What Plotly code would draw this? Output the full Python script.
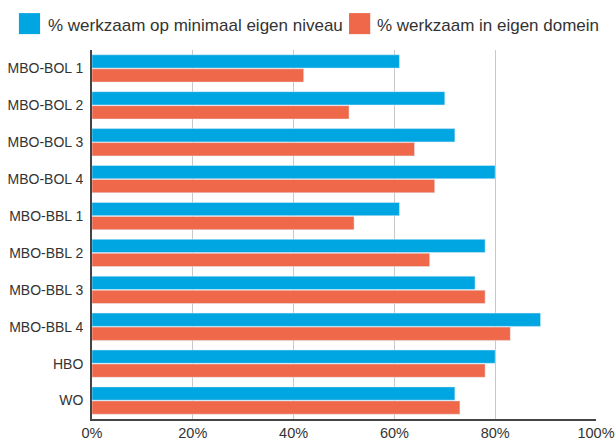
import plotly.graph_objects as go

categories = ["MBO-BOL 1", "MBO-BOL 2", "MBO-BOL 3", "MBO-BOL 4", "MBO-BBL 1",
              "MBO-BBL 2", "MBO-BBL 3", "MBO-BBL 4", "HBO", "WO"]
niveau = [61, 70, 72, 80, 61, 78, 76, 89, 80, 72]
domein = [42, 51, 64, 68, 52, 67, 78, 83, 78, 73]
series_names = ["% werkzaam op minimaal eigen niveau", "% werkzaam in eigen domein"]
tick_vals = [0, 20, 40, 60, 80, 100]
tick_text = ["0%", "20%", "40%", "60%", "80%", "100%"]

blue = "#00A6E2"
orange = "#EE6849"
font = "Liberation Sans, Arial, sans-serif"

fig = go.Figure()
fig.add_trace(go.Bar(y=categories, x=niveau, orientation="h", name=series_names[0],
                     marker_color=blue, showlegend=False))
fig.add_trace(go.Bar(y=categories, x=domein, orientation="h", name=series_names[1],
                     marker_color=orange, showlegend=False))

# legend drawn by hand so the swatches are as big as in the original
fig.add_shape(type="rect", xref="paper", yref="paper", x0=-0.145, x1=-0.103,
              y0=1.043, y1=1.100, fillcolor=blue, line_width=0)
fig.add_annotation(xref="paper", yref="paper", x=-0.091, y=1.066, xanchor="left",
                   yanchor="middle", text=series_names[0], showarrow=False,
                   font=dict(size=17, color="#333333"))
fig.add_shape(type="rect", xref="paper", yref="paper", x0=0.510, x1=0.552,
              y0=1.043, y1=1.100, fillcolor=orange, line_width=0)
fig.add_annotation(xref="paper", yref="paper", x=0.562, y=1.066, xanchor="left",
                   yanchor="middle", text=series_names[1], showarrow=False,
                   font=dict(size=17, color="#333333"))

fig.update_layout(
    width=616, height=443,
    margin=dict(l=92, r=20, t=50, b=24),
    barmode="group", bargap=0.24, bargroupgap=0.05,
    plot_bgcolor="white", paper_bgcolor="white",
    font=dict(family=font, size=15, color="#333333"),
)
fig.update_xaxes(range=[0, 100], tickvals=tick_vals, ticktext=tick_text,
                 showgrid=True, gridcolor="#C8C8C8", gridwidth=1,
                 showline=True, linecolor="#444444", linewidth=2,
                 zeroline=False, ticks="", ticklabeloverflow="allow",
                 automargin=False, tickfont=dict(size=14.5))
fig.update_yaxes(autorange="reversed", showline=True, linecolor="#444444",
                 linewidth=2, ticks="", ticksuffix=" ", showgrid=False,
                 automargin=False, tickfont=dict(size=14))

# drop the browser's default body margin so the figure sits at the page corner
fig.write_html("out.html", config={"displayModeBar": False},
               post_script="document.body.style.margin='0';")
